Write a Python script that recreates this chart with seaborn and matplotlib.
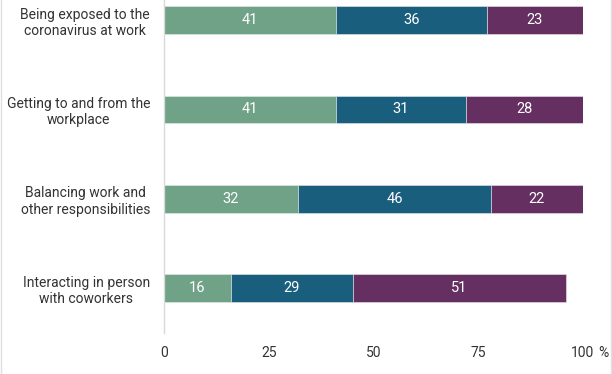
import matplotlib
matplotlib.use("Agg")
import matplotlib.pyplot as plt
from matplotlib.lines import Line2D
import seaborn as sns
import pandas as pd

categories = [
    "Being exposed to the\ncoronavirus at work",
    "Getting to and from the\nworkplace",
    "Balancing work and\nother responsibilities",
    "Interacting in person\nwith coworkers",
]
series_names = ["A", "B", "C"]
vals_a = [41, 41, 32, 16]
vals_b = [36, 31, 46, 29]
vals_c = [23, 28, 22, 51]
colors = ["#6fa287", "#1a5e7e", "#662f62"]
x_ticks = [0, 25, 50, 75, 100]
x_ticklabels = ["0", "25", "50", "75", "100"]

sns.set_theme(style="white")
plt.rcParams["font.family"] = ["Roboto", "DejaVu Sans"]

fig = plt.figure(figsize=(6.12, 3.74), dpi=100)
ax = fig.add_axes([164 / 612, 1 - 333 / 374, (583 - 164) / 612, 333 / 374])

df = pd.DataFrame({"cat": categories, "A": vals_a, "B": vals_b, "C": vals_c})
lefts = [0] * len(categories)
for name, col in zip(series_names, colors):
    sns.barplot(data=df, y="cat", x=name, orient="h", color=col, width=0.31,
                left=lefts, edgecolor="#e8e8e8", linewidth=0.4, ax=ax,
                saturation=1)
    lefts = [l + v for l, v in zip(lefts, df[name])]

for cont in ax.containers:
    ax.bar_label(cont, label_type="center", color="white", fontsize=10.5)

ax.set_xlim(0, 100)
ax.set_ylim(3.5, -0.224)
ax.set_xticks(x_ticks)
ax.set_xticklabels(x_ticklabels, fontsize=10, color="#333333")
ax.annotate("%", xy=(100, 0), xycoords=("data", "axes fraction"),
            xytext=(11, -9.5), textcoords="offset points", ha="left", va="top",
            fontsize=10, color="#333333")
ax.tick_params(axis="x", length=0, pad=9.5)
ax.tick_params(axis="y", length=0, pad=10)
for lab in ax.get_yticklabels():
    lab.set_multialignment("center")
    lab.set_fontsize(10)
    lab.set_color("#333333")
ax.set_xlabel("")
ax.set_ylabel("")
for s in ["top", "right", "bottom"]:
    ax.spines[s].set_visible(False)
ax.spines["left"].set_color("#d9d9d9")
ax.spines["left"].set_linewidth(1)

fig.add_artist(Line2D([0.0015, 0.0015], [0, 1], transform=fig.transFigure, color="#e0e0e0", lw=1))
fig.add_artist(Line2D([0.9985, 0.9985], [0, 1], transform=fig.transFigure, color="#e0e0e0", lw=1))

fig.savefig("out.png", dpi=100)
